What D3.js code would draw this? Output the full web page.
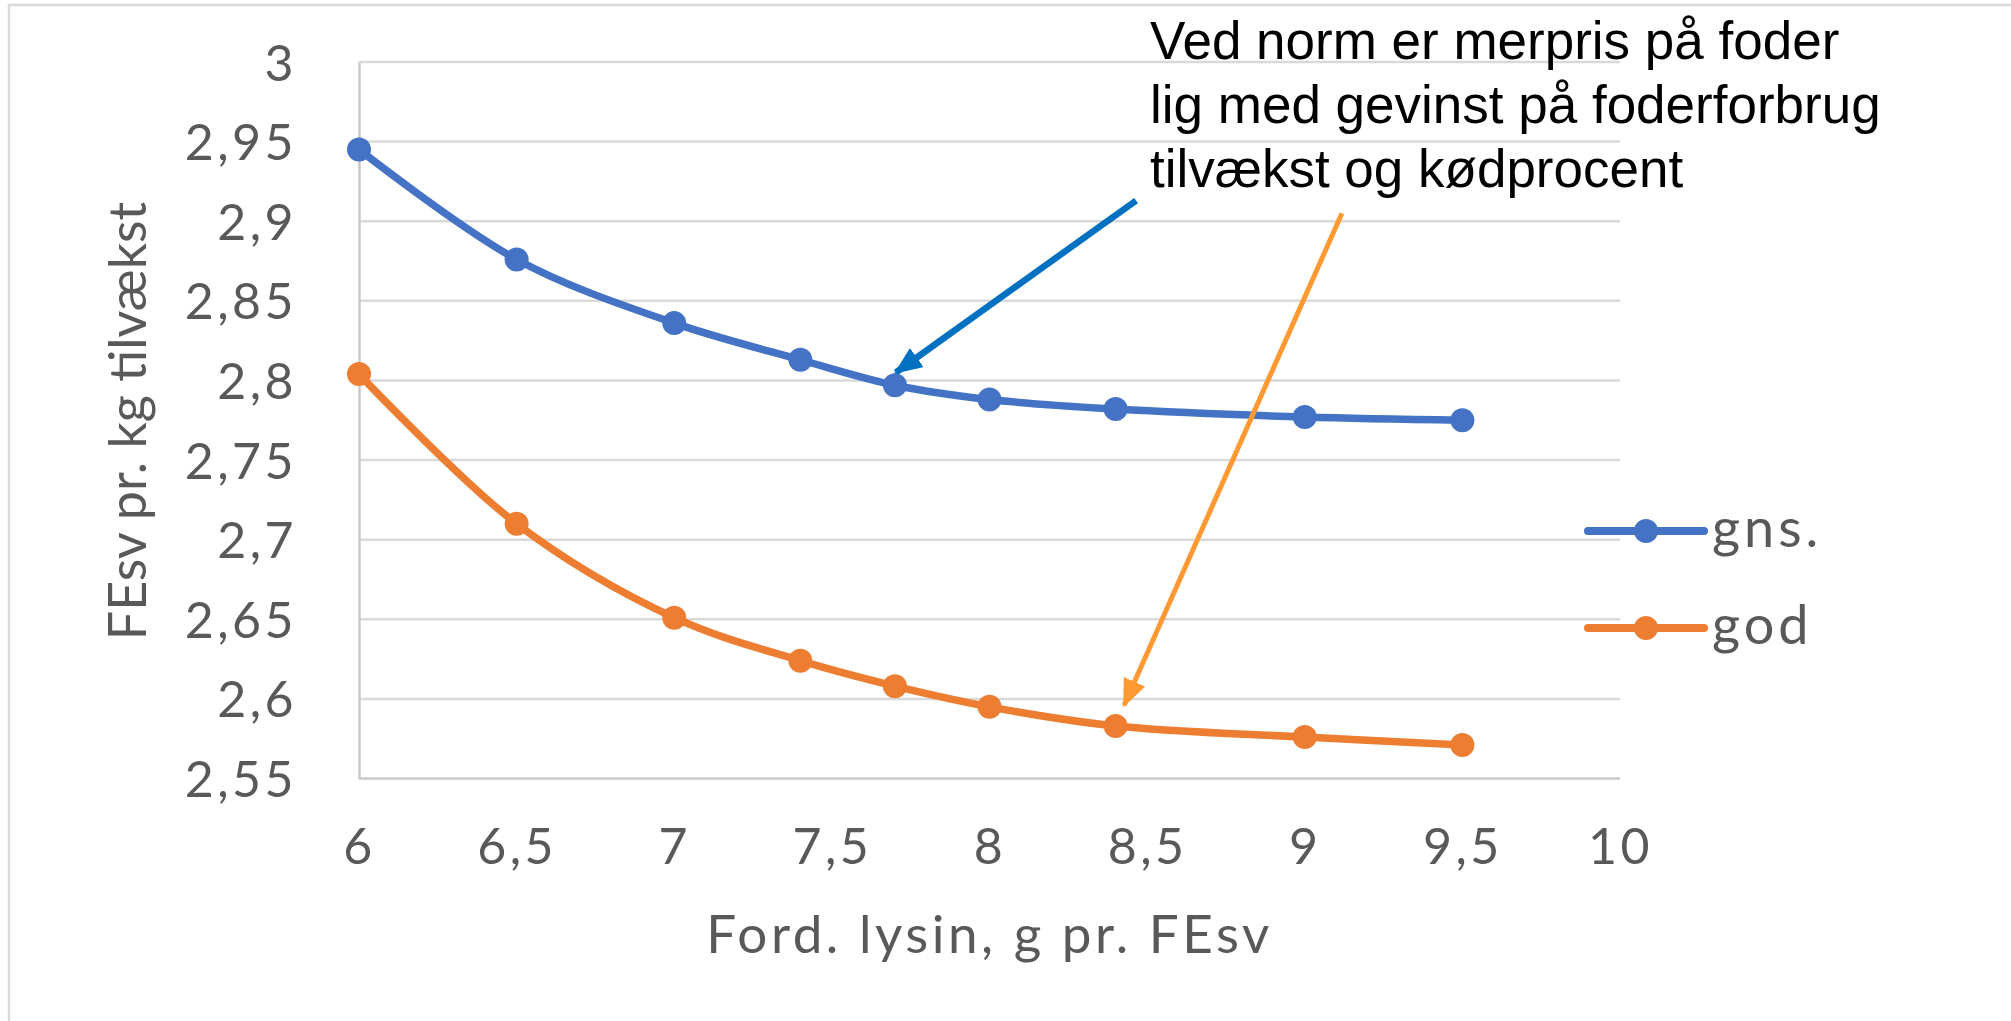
<!DOCTYPE html>
<html lang="da">
<head>
  <meta charset="UTF-8">
  <title>FEsv pr. kg tilvækst</title>
  <style>
    body { margin: 0; background: #fff; }
    svg { display: block; }
  </style>
</head>
<body>
  <svg id="svg" width="2011" height="1021"></svg>

  <script src="https://d3js.org/d3.v7.min.js"></script>
  <script>
    // lysin levels (x) and the two series
    const lysin = [6, 6.5, 7, 7.4, 7.7, 8, 8.4, 9, 9.5]
    const gns = [2.945, 2.876, 2.836, 2.813, 2.797, 2.788, 2.782, 2.777, 2.775]
    const god = [2.804, 2.710, 2.651, 2.624, 2.608, 2.595, 2.583, 2.576, 2.571]
    const seriesNames = ['gns.', 'god']
    const xTicks = [6, 6.5, 7, 7.5, 8, 8.5, 9, 9.5, 10]
    const yTicks = [2.55, 2.6, 2.65, 2.7, 2.75, 2.8, 2.85, 2.9, 2.95, 3]
    const noteLines = ['Ved norm er merpris på foder', 'lig med gevinst på foderforbrug', 'tilvækst og kødprocent']
    // arrows, [x, y] in data units: start -> tip
    const arrows = [
      { from: [8.465, 2.913], to: [7.703, 2.805], color: '#0070C0', w: 6.5 },
      { from: [9.118, 2.905], to: [8.427, 2.596], color: '#FF9933', w: 5 }
    ]

    const colors = ['#4472C4', '#ED7D31']
    const grey = '#595959'
    const font = 'Lato, "Open Sans", sans-serif'

    const svg = d3.select('#svg')

    // chart border
    svg.append('rect')
      .attr('x', 9).attr('y', 5)
      .attr('width', 2030).attr('height', 1040)
      .attr('fill', 'none')
      .attr('stroke', '#d9d9d9')
      .attr('stroke-width', 2.5)

    const xScale = d3.scaleLinear().domain([6, 10]).range([359, 1620])
    const yScale = d3.scaleLinear().domain([2.55, 3]).range([778.5, 62])

    const da = d3.formatLocale({ decimal: ',', thousands: '.', grouping: [3], currency: ['', ' kr.'] })
    const fmt = d => da.format('')(+d.toFixed(2))

    // gridlines
    svg.append('g')
      .selectAll('line')
      .data(yTicks)
      .enter()
      .append('line')
      .attr('x1', xScale(6))
      .attr('x2', xScale(10))
      .attr('y1', d => yScale(d))
      .attr('y2', d => yScale(d))
      .attr('stroke', d => d === 2.55 ? '#c8c8c8' : '#d9d9d9')
      .attr('stroke-width', 2.5)

    // y axis
    const yAxis = svg.append('g')
      .attr('transform', `translate(${xScale(6)},0)`)
      .call(d3.axisLeft(yScale).tickValues(yTicks).tickSize(0).tickPadding(62).tickFormat(fmt))
    yAxis.select('.domain').attr('stroke', '#c8c8c8').attr('stroke-width', 2.5)
    yAxis.selectAll('text')
      .attr('fill', grey)
      .attr('dy', '0.36em')
      .style('font-family', font)
      .style('font-size', '50px')
      .style('letter-spacing', '3.5px')

    // x axis
    const xAxis = svg.append('g')
      .attr('transform', `translate(0,${yScale(2.55)})`)
      .call(d3.axisBottom(xScale).tickValues(xTicks).tickSize(0).tickPadding(55).tickFormat(fmt))
    xAxis.select('.domain').remove()
    xAxis.selectAll('text')
      .attr('fill', grey)
      .attr('dy', '0.6em')
      .style('font-family', font)
      .style('font-size', '50px')
      .style('letter-spacing', '3.5px')

    // axis titles
    svg.append('text')
      .text('Ford. lysin, g pr. FEsv')
      .attr('x', (xScale(6) + xScale(10)) / 2)
      .attr('y', 953)
      .attr('text-anchor', 'middle')
      .attr('fill', grey)
      .style('font-family', font)
      .style('font-size', '53px')
      .style('letter-spacing', '3.5px')

    svg.append('text')
      .text('FEsv pr. kg tilvækst')
      .attr('transform', 'translate(146,421) rotate(-90)')
      .attr('text-anchor', 'middle')
      .attr('fill', grey)
      .style('font-family', font)
      .style('font-size', '52px')

    // series
    const series = [gns, god]
    const line = d3.line()
      .x((d, i) => xScale(lysin[i]))
      .y(d => yScale(d))
      .curve(d3.curveCatmullRom.alpha(0.5))

    series.forEach((vals, s) => {
      const g = svg.append('g')
      g.append('path')
        .attr('d', line(vals))
        .attr('fill', 'none')
        .attr('stroke', colors[s])
        .attr('stroke-width', 7.5)
        .attr('stroke-linecap', 'round')
      g.selectAll('circle')
        .data(vals)
        .enter()
        .append('circle')
        .attr('cx', (d, i) => xScale(lysin[i]))
        .attr('cy', d => yScale(d))
        .attr('r', 12)
        .attr('fill', colors[s])
    })

    // legend
    const legend = svg.append('g')
      .selectAll('g')
      .data(seriesNames)
      .enter()
      .append('g')
      .attr('transform', (d, i) => `translate(1588,${531 + i * 97})`)
    legend.append('line')
      .attr('x1', 0).attr('x2', 116)
      .attr('stroke', (d, i) => colors[i])
      .attr('stroke-width', 8)
      .attr('stroke-linecap', 'round')
    legend.append('circle')
      .attr('cx', 58)
      .attr('r', 12)
      .attr('fill', (d, i) => colors[i])
    legend.append('text')
      .text(d => d)
      .attr('x', 124)
      .attr('y', 16)
      .attr('fill', grey)
      .style('font-family', font)
      .style('font-size', '54px')
      .style('letter-spacing', '4px')

    // annotation
    svg.append('text')
      .attr('fill', '#000')
      .style('font-family', '"Liberation Sans", Arial, sans-serif')
      .style('font-size', '53px')
      .selectAll('tspan')
      .data(noteLines)
      .enter()
      .append('tspan')
      .attr('x', 1150)
      .attr('y', (d, i) => 59 + i * 64)
      .text(d => d)

    const defs = svg.append('defs')
    arrows.forEach((a, i) => {
      defs.append('marker')
        .attr('id', 'head' + i)
        .attr('markerUnits', 'userSpaceOnUse')
        .attr('viewBox', '0 -10 24 20')
        .attr('refX', 22)
        .attr('refY', 0)
        .attr('markerWidth', 28)
        .attr('markerHeight', 24)
        .attr('orient', 'auto')
        .append('path')
        .attr('d', 'M0,-10L24,0L0,10Z')
        .attr('fill', a.color)
    })

    svg.append('g')
      .selectAll('line')
      .data(arrows)
      .enter()
      .append('line')
      .attr('x1', d => xScale(d.from[0]))
      .attr('y1', d => yScale(d.from[1]))
      .attr('x2', d => xScale(d.to[0]))
      .attr('y2', d => yScale(d.to[1]))
      .attr('stroke', d => d.color)
      .attr('stroke-width', d => d.w)
      .attr('marker-end', (d, i) => `url(#head${i})`)
  </script>
</body>
</html>
